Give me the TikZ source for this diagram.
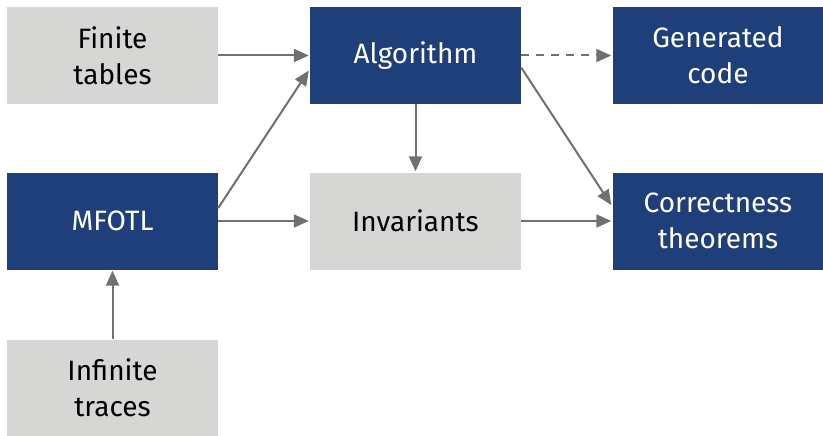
\documentclass[tikz,border=0pt]{standalone}
\usepackage{fontspec}
\setmainfont{Fira Sans}
\usetikzlibrary{arrows.meta}
\definecolor{darkbox}{HTML}{1F3F7A}
\definecolor{lightbox}{HTML}{D6D6D4}
\definecolor{arrowgray}{HTML}{707070}
\tikzset{
  box/.style={minimum width=211pt, minimum height=97pt, inner sep=0pt, align=center, font=\fontsize{28}{36}\selectfont},
  darkb/.style={box, fill=darkbox, text=white},
  lightb/.style={box, fill=lightbox, text=black},
  conn/.style={draw=arrowgray, line width=2pt, -{Triangle[length=15pt,width=13pt]}},
}
\begin{document}
\begin{tikzpicture}[x=1pt,y=-1pt]
\useasboundingbox (0,0) rectangle (823,436);
\node[lightb] (ft) at (112.5,55.5) {Finite\\tables};
\node[darkb] (alg) at (415.5,55.5) {Algorithm};
\node[darkb] (gen) at (718,55.5) {Generated\\code};
\node[darkb] (mf) at (112.5,221) {MFOTL};
\node[lightb] (inv) at (415.5,221) {Invariants};
\node[darkb] (cor) at (718,221) {Correctness\\theorems};
\node[lightb] (it) at (112.5,388) {Infinite\\traces};
\draw[conn] (ft.east) -- ([xshift=-1pt]alg.west);
\draw[conn] ([yshift=13pt]mf.east) -- ([xshift=-1pt,yshift=-15pt]alg.west);
\draw[conn] (mf.east) -- ([xshift=-1pt]inv.west);
\draw[conn] (it.north) -- ([yshift=-1pt]mf.south);
\draw[conn] (alg.south) -- ([yshift=1pt]inv.north);
\draw[conn, dashed, dash pattern=on 8pt off 7pt] (alg.east) -- ([xshift=-1pt]gen.west);
\draw[conn] ([yshift=-12pt]alg.east) -- ([xshift=-1pt,yshift=16pt]cor.west);
\draw[conn] (inv.east) -- ([xshift=-1pt]cor.west);
\end{tikzpicture}
\end{document}
